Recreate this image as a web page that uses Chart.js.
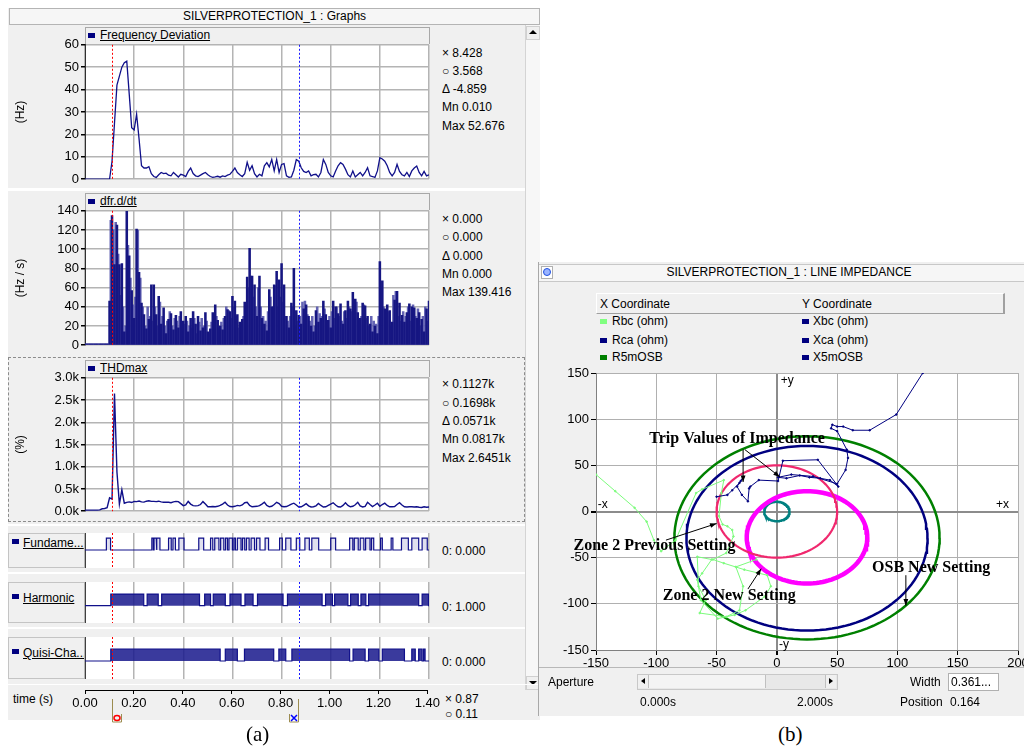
<!DOCTYPE html>
<html>
<head>
<meta charset="utf-8">
<script src="https://cdn.jsdelivr.net/npm/chart.js@4.4.0/dist/chart.umd.min.js"></script>
<style>
body { margin: 0; width: 1024px; height: 749px; background: #fff; overflow: hidden; position: relative;
       font-family: 'Liberation Sans', Arial, sans-serif; font-size: 12px; color: #000; }
div, canvas { position: absolute; }
.t { line-height: 16px; height: 16px; white-space: nowrap; }
.u { text-decoration: underline; }
.sq { width: 7px; height: 5px; background: #000080; }
.panel { background: #f0f0f0; }
.hdr { background: #f0f0f0; border: 1px solid #a8a8a8; border-bottom: none; }
.lbl { background: #f0f0f0; border: 1px solid #c4c4c4; border-right: 1px solid #808080; }
.cap { font-family: 'Liberation Serif', 'Times New Roman', serif; font-size: 21px; }
</style>
</head>
<body>

<!-- graphs window -->
<div class="panel" style="left:8px;top:8px;width:532px;height:712px;"></div>
<div class="t" style="left:9px;top:8px;width:529px;height:15px;border:1px solid #b4b4b4;background:#f6f6f6;text-align:center;line-height:15px;">SILVERPROTECTION_1 : Graphs</div>
<div style="left:525px;top:25px;width:14px;height:665px;background:#f7f7f7;border-left:1px solid #d4d4d4;"></div>
<div style="left:526px;top:26px;width:12px;height:12px;background:#f0f0f0;border:1px solid #d0d0d0;"></div>
<div style="left:529px;top:30px;width:0;height:0;border-left:4px solid transparent;border-right:4px solid transparent;border-bottom:4px solid #000;"></div>
<div style="left:526px;top:676px;width:12px;height:12px;background:#f0f0f0;border:1px solid #d0d0d0;"></div>
<div style="left:529px;top:681px;width:0;height:0;border-left:4px solid transparent;border-right:4px solid transparent;border-top:4px solid #000;"></div>

<div style="left:8px;top:188px;width:517px;height:3px;background:#fff;"></div>
<div style="left:8px;top:357px;width:515px;height:163px;border:1px dashed #8c8c8c;"></div>
<div style="left:8px;top:524px;width:517px;height:2px;background:#fff;"></div>

<div class="hdr" style="left:85px;top:27px;width:343px;height:16px;"></div>
<div class="sq" style="left:88px;top:33px;"></div>
<div class="t u" style="left:100px;top:27px;">Frequency Deviation</div>
<div class="hdr" style="left:85px;top:193px;width:343px;height:16px;"></div>
<div class="sq" style="left:88px;top:199px;"></div>
<div class="t u" style="left:100px;top:193px;">dfr.d/dt</div>
<div class="hdr" style="left:85px;top:360px;width:343px;height:16px;"></div>
<div class="sq" style="left:88px;top:366px;"></div>
<div class="t u" style="left:100px;top:360px;">THDmax</div>

<div class="t" style="left:442px;top:45px;">&#215; 8.428</div>
<div class="t" style="left:442px;top:63px;">&#9675; 3.568</div>
<div class="t" style="left:442px;top:81px;">&#916; -4.859</div>
<div class="t" style="left:442px;top:99px;">Mn 0.010</div>
<div class="t" style="left:442px;top:118px;">Max 52.676</div>

<div class="t" style="left:442px;top:211px;">&#215; 0.000</div>
<div class="t" style="left:442px;top:229px;">&#9675; 0.000</div>
<div class="t" style="left:442px;top:248px;">&#916; 0.000</div>
<div class="t" style="left:442px;top:266px;">Mn 0.000</div>
<div class="t" style="left:442px;top:284px;">Max 139.416</div>

<div class="t" style="left:442px;top:376px;">&#215; 0.1127k</div>
<div class="t" style="left:442px;top:395px;">&#9675; 0.1698k</div>
<div class="t" style="left:442px;top:413px;">&#916; 0.0571k</div>
<div class="t" style="left:442px;top:431px;">Mn 0.0817k</div>
<div class="t" style="left:442px;top:450px;">Max 2.6451k</div>

<div style="left:8px;top:572px;width:517px;height:2px;background:#fff;"></div>
<div style="left:8px;top:627px;width:517px;height:2px;background:#fff;"></div>
<div class="lbl" style="left:8px;top:533px;width:75px;height:33px;"></div>
<div class="sq" style="left:12px;top:539px;"></div>
<div class="t u" style="left:23px;top:535px;">Fundame...</div>
<div class="lbl" style="left:8px;top:582px;width:75px;height:39px;"></div>
<div class="sq" style="left:12px;top:594px;"></div>
<div class="t u" style="left:23px;top:590px;">Harmonic</div>
<div class="lbl" style="left:8px;top:637px;width:75px;height:40px;"></div>
<div class="sq" style="left:12px;top:649px;"></div>
<div class="t u" style="left:23px;top:645px;">Quisi-Cha...</div>
<div class="t" style="left:442px;top:543px;">0: 0.000</div>
<div class="t" style="left:442px;top:599px;">0: 1.000</div>
<div class="t" style="left:442px;top:654px;">0: 0.000</div>

<div style="left:8px;top:684px;width:532px;height:1px;background:#fff;"></div>
<div class="t" style="left:13px;top:691px;">time (s)</div>
<div class="t" style="left:445px;top:691px;">&#215; 0.87</div>
<div class="t" style="left:445px;top:706px;">&#9675; 0.11</div>

<canvas id="freqChart" width="423" height="154" style="left:9px;top:35px;"></canvas>
<canvas id="dfrChart" width="423" height="154" style="left:9px;top:201px;"></canvas>
<canvas id="thdChart" width="423" height="153" style="left:9px;top:368px;"></canvas>
<canvas id="fundChart" width="423" height="35" style="left:9px;top:533px;"></canvas>
<canvas id="harmChart" width="423" height="41" style="left:9px;top:582px;"></canvas>
<canvas id="quisiChart" width="423" height="42" style="left:9px;top:637px;"></canvas>
<canvas id="timeChart" width="433" height="44" style="left:9px;top:680px;"></canvas>

<div class="cap" style="left:246px;top:722px;">(a)</div>

<!-- line impedance window -->
<div class="panel" style="left:538px;top:262px;width:486px;height:454px;border-left:1px solid #a8a8a8;"></div>
<div style="left:539px;top:264px;width:485px;height:16px;background:#f6f6f6;border-bottom:1px solid #c8c8c8;border-top:1px solid #c8c8c8;"></div>
<div style="left:541px;top:266px;width:10px;height:11px;background:#fff;border:1px solid #b0b0b0;"></div>
<div style="left:543px;top:268px;width:6px;height:6px;border-radius:4px;border:1px solid #2050e0;background:#9ab4ff;"></div>
<div class="t" style="left:589px;top:264px;width:400px;text-align:center;">SILVERPROTECTION_1 : LINE IMPEDANCE</div>

<div style="left:596px;top:293px;width:406px;height:19px;border-top:1px solid #fff;border-left:1px solid #fff;border-right:2px solid #a0a0a0;border-bottom:1px solid #a0a0a0;"></div>
<div class="t" style="left:600px;top:296px;">X Coordinate</div>
<div class="t" style="left:802px;top:296px;">Y Coordinate</div>
<div class="sq" style="left:600px;top:319px;background:#80ff80;"></div>
<div class="t" style="left:612px;top:313px;">Rbc (ohm)</div>
<div class="sq" style="left:600px;top:338px;"></div>
<div class="t" style="left:612px;top:332px;">Rca (ohm)</div>
<div class="sq" style="left:600px;top:355px;background:#008000;"></div>
<div class="t" style="left:612px;top:349px;">R5mOSB</div>
<div class="sq" style="left:802px;top:319px;"></div>
<div class="t" style="left:813px;top:313px;">Xbc (ohm)</div>
<div class="sq" style="left:802px;top:338px;"></div>
<div class="t" style="left:813px;top:332px;">Xca (ohm)</div>
<div class="sq" style="left:802px;top:355px;"></div>
<div class="t" style="left:813px;top:349px;">X5mOSB</div>

<canvas id="zChart" width="490" height="310" style="left:540px;top:362px;"></canvas>

<div style="left:539px;top:667px;width:485px;height:1px;background:#b8b8b8;"></div>
<div class="t" style="left:548px;top:674px;">Aperture</div>
<div style="left:637px;top:674px;width:199px;height:14px;background:#e8e8e8;border:1px solid #c8c8c8;"></div>
<div style="left:648px;top:675px;width:117px;height:13px;background:#f4f4f4;border-right:1px solid #c0c0c0;"></div>
<div style="left:638px;top:675px;width:10px;height:13px;background:#f0f0f0;border-right:1px solid #c0c0c0;"></div>
<div style="left:641px;top:678px;width:0;height:0;border-top:3px solid transparent;border-bottom:3px solid transparent;border-right:4px solid #000;"></div>
<div style="left:825px;top:675px;width:10px;height:13px;background:#f0f0f0;border-left:1px solid #c0c0c0;"></div>
<div style="left:829px;top:678px;width:0;height:0;border-top:3px solid transparent;border-bottom:3px solid transparent;border-left:4px solid #000;"></div>
<div class="t" style="left:910px;top:674px;">Width</div>
<div class="t" style="left:948px;top:673px;width:47px;height:16px;background:#fff;border:1px solid #b0b0b0;padding-left:2px;">0.361...</div>
<div class="t" style="left:640px;top:694px;">0.000s</div>
<div class="t" style="left:797px;top:694px;">2.000s</div>
<div class="t" style="left:900px;top:694px;">Position</div>
<div class="t" style="left:950px;top:694px;">0.164</div>

<div class="cap" style="left:778px;top:722px;">(b)</div>

<script>
// frequency deviation (Hz), one sample every 10 ms from 0.00 s
const freqDev = [
  0.01, 0.01, 0.01, 0.01, 0.01, 0.01, 0.01, 0.01, 0.01, 0.01, 0.01,
  8, 25, 42, 46, 50, 52, 52.676, 38, 23, 22,
  29, 18, 6, 5, 5, 5.6, 2.5, 1.2, 0.8, 2,
  3, 2.5, 2.7, 1.8, 1.5, 3, 2, 1, 2.2, 1.8,
  1.2, 3.5, 5, 2.5, 1.5, 1.2, 1.8, 2.5, 3, 2,
  1.2, 0.8, 1, 1.3, 0.9, 1.5, 1.2, 1.8, 2.2, 3.5,
  5, 3, 2, 1.2, 2.5, 7.5, 4, 6, 2.5, 1,
  2.2, 1.5, 6, 7.4, 5.5, 8.8, 3.7, 8.8, 3, 6.6,
  7, 1.5, 0.8, 1, 4, 8.8, 8, 5.1, 3.5, 3,
  3.7, 1.5, 2, 2.2, 1, 3, 8.8, 6.6, 3, 1.5,
  1, 3.7, 6, 7.4, 6.6, 4.5, 2, 1, 3.7, 1,
  2, 3, 1.5, 3, 5.1, 1.5, 1.2, 0.8, 3.7, 9.6,
  9, 8, 6, 3, 1.5, 3, 6.6, 3.5, 2, 1.5,
  3, 1.2, 3.7, 5, 5.9, 3, 1.5, 3.5, 1.5, 2
];

// dfr/dt (Hz/s): dark bars at 0.00, 0.01 ... 1.40 s
const dfrDark = [
  1.5, 1.5, 1.5, 1.5, 1.5, 1.5, 1.5, 1.5, 1.5, 1.5,
  46, 135, 84, 125, 84, 85, 14, 139.416, 93, 57,
  28, 121, 76, 44, 32, 17, 27, 63, 63, 32,
  51, 22, 39, 12, 27, 33, 16, 31, 18, 35,
  25, 30, 14, 28, 35, 22, 30, 15, 18, 34,
  14, 17, 34, 42, 26, 20, 16, 30, 37, 35,
  51, 46, 32, 24, 27, 45, 71, 101, 72, 63,
  30, 72, 28, 22, 15, 58, 40, 63, 77, 68,
  85, 63, 30, 18, 44, 80, 36, 31, 22, 38,
  42, 30, 20, 14, 36, 24, 28, 46, 32, 26,
  18, 46, 40, 33, 43, 22, 36, 46, 38, 55,
  48, 34, 28, 44, 41, 30, 22, 14, 20, 12,
  87, 67, 38, 42, 36, 24, 47, 56, 44, 31,
  24, 34, 43, 40, 39, 28, 34, 27, 14, 38,
  46
];
// light bars in between, at 0.005, 0.015 ... 1.395 s
const dfrLight = [
  1.5, 1.5, 1.5, 1.5, 1.5, 1.5, 1.5, 1.5, 1.5, 1.5,
  130, 120, 128, 95, 52, 40, 20, 104, 70, 42,
  50, 120, 70, 40, 20, 40, 30, 25, 40, 20,
  45, 30, 20, 25, 35, 20, 28, 25, 30, 15,
  22, 25, 20, 18, 28, 12, 24, 28, 20, 25,
  12, 24, 20, 30, 18, 24, 28, 40, 36, 28,
  40, 30, 18, 22, 30, 40, 60, 72, 50, 40,
  60, 40, 30, 25, 35, 50, 40, 62, 40, 50,
  45, 30, 25, 30, 40, 20, 25, 30, 45, 46,
  32, 25, 30, 20, 40, 33, 30, 38, 25, 30,
  35, 28, 40, 30, 25, 35, 28, 40, 35, 30,
  45, 25, 30, 42, 28, 20, 30, 25, 22, 30,
  60, 40, 30, 35, 20, 52, 56, 30, 25, 35,
  30, 40, 25, 42, 30, 38, 20, 30, 40, 25
];

// THDmax (%), every 10 ms
const thdMax = [
  25, 25, 25, 25, 25, 25, 30, 55, 60, 80,
  300, 270, 2645.1, 880, 160, 480, 180, 200, 210, 195,
  220, 215, 230, 210, 205, 225, 235, 220, 220, 215,
  225, 210, 200, 205, 200, 190, 210, 220, 215, 170,
  125, 140, 220, 160, 125, 120, 125, 150, 215, 160,
  100, 100, 105, 100, 110, 130, 160, 200, 140, 105,
  100, 110, 130, 120, 140, 190, 200, 130, 100, 105,
  110, 125, 160, 200, 130, 100, 110, 150, 200, 170,
  110, 100, 105, 130, 160, 180, 140, 95, 100, 130,
  170, 120, 95, 100, 120, 175, 130, 95, 100, 130,
  160, 190, 140, 100, 95, 130, 190, 130, 100, 110,
  145, 200, 120, 95, 110, 200, 150, 105, 140, 180,
  110, 150, 180, 130, 100, 100, 105, 150, 190, 140,
  100, 95, 100, 100, 95, 100, 90, 85, 100, 90,
  95
];

// relay flags: intervals (s) where each signal is high
const fundHigh = [
  [0.087, 0.104], [0.272, 0.278], [0.281, 0.29], [0.293, 0.305], [0.34, 0.351], [0.358, 0.368],
  [0.382, 0.403], [0.463, 0.483], [0.511, 0.52], [0.528, 0.545], [0.552, 0.565], [0.572, 0.58],
  [0.586, 0.6], [0.606, 0.612], [0.62, 0.635], [0.641, 0.65], [0.657, 0.668], [0.676, 0.69],
  [0.698, 0.712], [0.733, 0.747], [0.792, 0.803], [0.817, 0.838], [0.86, 0.874], [0.895, 0.913],
  [0.923, 0.951], [1.0, 1.02], [1.077, 1.09], [1.096, 1.112], [1.12, 1.135], [1.142, 1.16],
  [1.166, 1.175], [1.203, 1.21], [1.246, 1.253], [1.288, 1.316], [1.33, 1.358], [1.372, 1.393]
];
const harmHigh = [
  [0.105, 0.239], [0.253, 0.298], [0.312, 0.466], [0.487, 0.511], [0.522, 0.571], [0.59, 0.635],
  [0.651, 0.684], [0.702, 0.806], [0.824, 0.965], [0.979, 1.007], [1.016, 1.07], [1.081, 1.112],
  [1.123, 1.143], [1.154, 1.358], [1.372, 1.398]
];
const quisiHigh = [
  [0.105, 0.55], [0.571, 0.62], [0.649, 0.768], [0.789, 0.817], [0.842, 1.077], [1.091, 1.14],
  [1.154, 1.196], [1.21, 1.3], [1.33, 1.344], [1.358, 1.372], [1.378, 1.384]
];

// cursor positions (s)
const cursorO = 0.11;
const cursorX = 0.87;

// impedance trajectories (ohm)
const rca = [-50, -41, -37, -31, -28, -30, -33, -29, -24, -23, -22, -15, 1, 5, 34, 51, 44, 36, 27, 19, 8, 1, 12, 30, 50, 57, 59, 58, 50, 45, 46, 50, 55, 63, 77, 99, 121, 135];
const xca = [16, 18, 23, 31, 37, 33, 27, 18, 11, 25, 27, 34, 33, 55, 56, 27, 34, 36, 37, 39, 36, 37, 40, 38, 30, 45, 58, 67, 87, 90, 94, 92, 92, 88, 88, 105, 150, 172];
const rbc = [-150, -134, -118, -108, -102, -96, -84, -67, -62, -44, -46, -48, -45, -41, -37, -36, -42, -53, -44, -27, -8, -5, -10, -26, -35, -49, -63, -66, -62, -54, -66, -65, -59, -64, -42, -31, -28, -34, -17];
const xbc = [40, 22, 4, -11, -31, -43, -31, 20, 24, 34, 20, -5, -14, -16, -20, -27, -45, -52, -56, -63, -69, -81, -92, -107, -112, -116, -96, -74, -67, -52, -49, -81, -96, -110, -114, -107, -81, -60, -52];

// relay characteristic circles: centre R, centre X, radius (ohm)
const zoneNames = ['OSB outer', 'OSB inner', 'Zone 2 previous', 'Zone 2 new', 'Zone 1'];
const zoneR = [25, 25, 0, 25, 0];
const zoneX = [-28.5, -29, 0, -28, 0];
const zoneRadius = [110, 100, 50, 50, 10.5];

const tickFont = { family: "'Liberation Sans', Arial, sans-serif", size: 13 };
const gridGrey = '#b4b4b4';
const navy = '#10108a';

const plotBg = {
  id: 'plotBg',
  beforeDraw(chart) {
    const { ctx, chartArea: a } = chart;
    ctx.save();
    ctx.fillStyle = '#fff';
    ctx.fillRect(a.left, a.top, a.right - a.left, a.bottom - a.top);
    ctx.restore();
  }
};

const cursorLines = {
  id: 'cursorLines',
  afterDatasetsDraw(chart) {
    const { ctx, chartArea, scales: { x } } = chart;
    ctx.save();
    ctx.lineWidth = 1;
    ctx.setLineDash([2, 2]);
    [[cursorO, '#ff0000'], [cursorX, '#1a1aff']].forEach(([t, c]) => {
      const px = Math.round(x.getPixelForValue(t)) + 0.5;
      ctx.strokeStyle = c;
      ctx.beginPath();
      ctx.moveTo(px, chartArea.top);
      ctx.lineTo(px, chartArea.bottom);
      ctx.stroke();
    });
    ctx.restore();
  }
};

function timeGrid() {
  return {
    type: 'linear', min: 0, max: 1.4, offset: false,
    ticks: { display: false, stepSize: 0.2 },
    grid: { color: gridGrey, lineWidth: 1.5, drawTicks: false, offset: false },
    border: { display: false },
    afterFit: s => { s.height = 0; }
  };
}

function analogOptions(yMax, yStep, yTitle, fmt) {
  return {
    animation: false, responsive: false, events: [],
    layout: { padding: { top: 9, bottom: 9, right: 3 } },
    plugins: { legend: { display: false }, tooltip: { enabled: false } },
    scales: {
      x: timeGrid(),
      y: {
        min: 0, max: yMax,
        ticks: { stepSize: yStep, callback: fmt, font: tickFont, color: '#000', padding: 2 },
        grid: { color: gridGrey, lineWidth: 1.5, tickColor: '#000', tickLength: 4 },
        border: { color: '#303030' },
        title: { display: true, text: yTitle, font: { family: tickFont.family, size: 12 }, color: '#000' },
        afterFit: s => { s.width = 76; }
      }
    }
  };
}

function stepPoints(intervals) {
  const pts = [{ x: 0, y: 0 }];
  intervals.forEach(([a, b]) => {
    pts.push({ x: a, y: 0 }, { x: a, y: 1 }, { x: b, y: 1 }, { x: b, y: 0 });
  });
  pts.push({ x: 1.4, y: 0 });
  return pts;
}

function digitalChart(id, intervals, yMin, yMax, fillColor) {
  return new Chart(document.getElementById(id), {
    type: 'line',
    data: { datasets: [{
      data: stepPoints(intervals), borderColor: navy, borderWidth: 1.2,
      pointRadius: 0, tension: 0, fill: 'origin', backgroundColor: fillColor
    }] },
    options: {
      animation: false, responsive: false, events: [],
      layout: { padding: { right: 3 } },
      plugins: { legend: { display: false }, tooltip: { enabled: false } },
      scales: {
        x: timeGrid(),
        y: {
          min: yMin, max: yMax,
          ticks: { display: false },
          grid: { display: false },
          border: { color: '#404040' },
          afterFit: s => { s.width = 76; }
        }
      }
    },
    plugins: [plotBg, cursorLines]
  });
}

const freqTime = freqDev.map((_, i) => i / 100);

new Chart(document.getElementById('freqChart'), {
  type: 'line',
  data: { datasets: [{
    data: freqDev.map((v, i) => ({ x: freqTime[i], y: v })),
    borderColor: navy, borderWidth: 1.3, pointRadius: 0, tension: 0, fill: false
  }] },
  options: analogOptions(60, 10, '(Hz)', v => v),
  plugins: [plotBg, cursorLines]
});

new Chart(document.getElementById('dfrChart'), {
  type: 'bar',
  data: { datasets: [
    { data: dfrDark.map((v, i) => ({ x: i / 100, y: v })), backgroundColor: 'rgb(22,22,130)', barThickness: 1.9, grouped: false },
    { data: dfrLight.map((v, i) => ({ x: i / 100 + 0.005, y: v })), backgroundColor: 'rgba(92,92,176,0.95)', barThickness: 1.9, grouped: false }
  ] },
  options: analogOptions(140, 20, '(Hz / s)', v => v),
  plugins: [plotBg, cursorLines]
});

new Chart(document.getElementById('thdChart'), {
  type: 'line',
  data: { datasets: [{
    data: thdMax.map((v, i) => ({ x: freqTime[i], y: v })),
    borderColor: navy, borderWidth: 1.4, pointRadius: 0, tension: 0, fill: false
  }] },
  options: analogOptions(3000, 500, '(%)', v => (v / 1000).toFixed(1) + 'k'),
  plugins: [plotBg, cursorLines]
});

digitalChart('fundChart', fundHigh, -1.5, 1.42, 'rgba(40,40,150,0.15)');
digitalChart('harmChart', harmHigh, -1.48, 2.03, 'rgba(24,24,140,0.85)');
digitalChart('quisiChart', quisiHigh, -1.5, 2.0, 'rgba(24,24,140,0.85)');

// time axis with the two cursor tags under it
const cursorTags = {
  id: 'cursorTags',
  afterDraw(chart) {
    const { ctx, chartArea, scales: { x } } = chart;
    const top = chartArea.bottom;
    ctx.save();
    [[cursorO, '#ff0000', 1], [cursorX, '#0000ff', -1]].forEach(([t, c, side]) => {
      const px = Math.round(x.getPixelForValue(t)) + 0.5;
      ctx.strokeStyle = '#9c8c50';
      ctx.lineWidth = 1;
      ctx.beginPath();
      ctx.moveTo(px, top + 9);
      ctx.lineTo(px, top + 32);
      ctx.lineTo(px + side * 9, top + 32);
      ctx.lineTo(px + side * 9, top + 24);
      ctx.stroke();
      ctx.strokeStyle = c;
      ctx.lineWidth = 1.5;
      const cx = px + side * 4.5, cy = top + 28;
      ctx.beginPath();
      if (side > 0) {
        ctx.ellipse(cx, cy, 3, 2.5, 0, 0, Math.PI * 2);
      } else {
        ctx.moveTo(cx - 3, cy - 3); ctx.lineTo(cx + 3, cy + 3);
        ctx.moveTo(cx + 3, cy - 3); ctx.lineTo(cx - 3, cy + 3);
      }
      ctx.stroke();
    });
    ctx.restore();
  }
};

new Chart(document.getElementById('timeChart'), {
  type: 'line',
  data: { datasets: [] },
  options: {
    animation: false, responsive: false, events: [],
    layout: { padding: { left: 76, right: 13 } },
    plugins: { legend: { display: false }, tooltip: { enabled: false } },
    scales: {
      x: {
        type: 'linear', min: 0, max: 1.4,
        ticks: { stepSize: 0.2, callback: v => v.toFixed(2), font: tickFont, color: '#000', padding: 2, maxRotation: 0 },
        grid: { drawOnChartArea: false, tickLength: 4, tickColor: '#000' },
        border: { color: '#000' },
        afterFit: s => { s.height = 34; }
      },
      y: { display: false, min: 0, max: 1 }
    }
  },
  plugins: [cursorTags]
});

// impedance plane
function circlePoints(cr, cx, r) {
  const pts = [];
  for (let a = 0; a <= 360; a += 3) {
    const rad = a * Math.PI / 180;
    pts.push({ x: cr + r * Math.cos(rad), y: cx + r * Math.sin(rad) });
  }
  return pts;
}

const zoneStyles = [
  { color: '#008000', width: 2.5 },
  { color: '#000080', width: 2.5 },
  { color: '#f0286e', width: 2.2 },
  { color: '#ff00ff', width: 4.5 },
  { color: '#008080', width: 2.5 }
];

const notes = [
  { text: 'Trip Values of Impedance', r: -33, x: 79 },
  { text: 'Zone 2 Previous Setting', r: -101.5, x: -37 },
  { text: 'Zone 2 New Setting', r: -39.5, x: -91.5 },
  { text: 'OSB New Setting', r: 128, x: -61 }
];
const arrows = [
  [-28, 67, -28, 32],
  [-26.5, 67, 2.5, 37.5],
  [-92, -31, -50, -13],
  [-24, -84, -13, -62],
  [107, -69, 107, -102]
];
const axisTags = [
  { text: '+y', r: 3.3, x: 141.8 },
  { text: '-x', r: -148.5, x: 7.3 },
  { text: '+x', r: 181.7, x: 7.3 },
  { text: '-y', r: 1.7, x: -144.6 }
];

const impedanceNotes = {
  id: 'impedanceNotes',
  afterDatasetsDraw(chart) {
    const { ctx, scales: { x, y } } = chart;
    ctx.save();
    ctx.fillStyle = '#000';
    ctx.textBaseline = 'middle';
    ctx.textAlign = 'left';
    ctx.font = "12px 'Liberation Sans', Arial, sans-serif";
    axisTags.forEach(a => ctx.fillText(a.text, x.getPixelForValue(a.r), y.getPixelForValue(a.x)));

    ctx.strokeStyle = '#000';
    ctx.lineWidth = 1;
    arrows.forEach(([r0, x0, r1, x1]) => {
      const ax = x.getPixelForValue(r0), ay = y.getPixelForValue(x0);
      const bx = x.getPixelForValue(r1), by = y.getPixelForValue(x1);
      const ang = Math.atan2(by - ay, bx - ax);
      ctx.beginPath();
      ctx.moveTo(ax, ay);
      ctx.lineTo(bx, by);
      ctx.stroke();
      ctx.beginPath();
      ctx.moveTo(bx, by);
      ctx.lineTo(bx - 7 * Math.cos(ang - 0.35), by - 7 * Math.sin(ang - 0.35));
      ctx.lineTo(bx - 7 * Math.cos(ang + 0.35), by - 7 * Math.sin(ang + 0.35));
      ctx.closePath();
      ctx.fill();
    });

    ctx.textAlign = 'center';
    ctx.font = "bold 16px 'Liberation Serif', 'Times New Roman', serif";
    notes.forEach(n => ctx.fillText(n.text, x.getPixelForValue(n.r), y.getPixelForValue(n.x)));
    ctx.restore();
  }
};

const zeroLine = c => c.tick && c.tick.value === 0;

new Chart(document.getElementById('zChart'), {
  type: 'scatter',
  data: { datasets: [
    { label: 'Rca/Xca', data: rca.map((v, i) => ({ x: v, y: xca[i] })), showLine: true,
      borderColor: '#000080', backgroundColor: '#000080', borderWidth: 1, pointRadius: 0.8, tension: 0 },
    { label: 'Rbc/Xbc', data: rbc.map((v, i) => ({ x: v, y: xbc[i] })), showLine: true,
      borderColor: '#7cfc7c', backgroundColor: '#7cfc7c', borderWidth: 1, pointRadius: 0.8, tension: 0 },
    ...zoneNames.map((name, i) => ({
      label: name, data: circlePoints(zoneR[i], zoneX[i], zoneRadius[i]), showLine: true,
      borderColor: zoneStyles[i].color, borderWidth: zoneStyles[i].width, pointRadius: 0, tension: 0
    }))
  ] },
  options: {
    animation: false, responsive: false, events: [],
    layout: { padding: { top: 11, right: 12 } },
    plugins: { legend: { display: false }, tooltip: { enabled: false } },
    scales: {
      x: {
        type: 'linear', min: -150, max: 200,
        ticks: { stepSize: 50, font: tickFont, color: '#000', padding: 1, maxRotation: 0 },
        grid: { color: c => zeroLine(c) ? '#8c8c8c' : '#b0b0b0', lineWidth: c => zeroLine(c) ? 2 : 1, tickLength: 5, tickColor: '#000' },
        border: { color: '#808080' },
        afterFit: s => { s.height = 22; }
      },
      y: {
        min: -150, max: 150,
        ticks: { stepSize: 50, font: tickFont, color: '#000', padding: 2 },
        grid: { color: c => zeroLine(c) ? '#8c8c8c' : '#b0b0b0', lineWidth: c => zeroLine(c) ? 2 : 1, tickLength: 5, tickColor: '#000' },
        border: { color: '#808080' },
        afterFit: s => { s.width = 56; }
      }
    }
  },
  plugins: [plotBg, impedanceNotes]
});
</script>
</body>
</html>
